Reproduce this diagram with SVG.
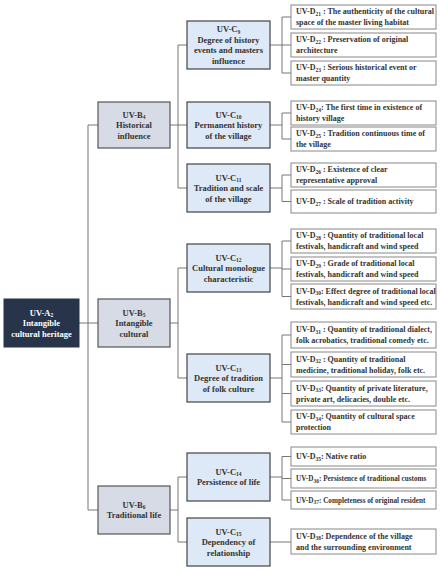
<svg xmlns="http://www.w3.org/2000/svg" width="441" height="571" viewBox="0 0 441 571">
<style>
text{font-family:"Liberation Serif","DejaVu Serif",serif;font-weight:bold;}
.a{fill:#27344a;stroke:#27344a;stroke-width:1}
.b{fill:#d6dbe5;stroke:#555;stroke-width:1.2}
.c{fill:#dde9f6;stroke:#444;stroke-width:1.2}
.d{fill:#fff;stroke:#888;stroke-width:1}
.ta{fill:#fff;font-size:8.5px;text-anchor:middle}
.tb{fill:#333;font-size:8.5px;text-anchor:middle}
.td{fill:#333;font-size:8px}
.tn{font-size:7.2px}
.s{font-size:5.5px}
.con{fill:none;stroke:#777;stroke-width:1}
</style>
<rect width="441" height="571" fill="#fff"/>
<g id="connectors">
<path class="con" d="M79,323H88M88,125V510M88,125H98M88,323H98M88,510H98
M170,125H178M178,45V188M178,45H187M178,125H187M178,188H187
M170,323H178M178,268V378M178,268H187M178,378H187
M170,510H178M178,477V542M178,477H187M178,542H187
M270,45H282M282,17V73M282,17H291M282,45H291M282,73H291
M270,125H282M282,113V139M282,113H291M282,139H291
M270,188H282M282,175V201.5M282,175H291M282,201.5H291
M270,268H282M282,241V296.5M282,241H291M282,269H291M282,296.5H291
M270,378H282M282,335V422M282,335H291M282,364.5H291M282,393.5H291M282,422H291
M270,477H282M282,456.5V500M282,456.5H291M282,478.5H291M282,500H291
M270,542H291"/>
</g>
<g id="A2"><rect class="a" x="4" y="299" width="75" height="48"/>
<text class="ta" x="41.5" y="315.5">UV-A<tspan class="s" dy="1.5">2</tspan></text>
<text class="ta" x="41.5" y="326">Intangible</text>
<text class="ta" x="41.5" y="336.5">cultural heritage</text></g>
<g id="B4"><rect class="b" x="98" y="102" width="72" height="46"/>
<text class="tb" x="134" y="117.5">UV-B<tspan class="s" dy="1.5">4</tspan></text>
<text class="tb" x="134" y="128">Historical</text>
<text class="tb" x="134" y="138.5">influence</text></g>
<g id="B5"><rect class="b" x="98" y="299" width="72" height="48"/>
<text class="tb" x="134" y="315.5">UV-B<tspan class="s" dy="1.5">5</tspan></text>
<text class="tb" x="134" y="326">Intangible</text>
<text class="tb" x="134" y="336.5">cultural</text></g>
<g id="B6"><rect class="b" x="98" y="486" width="72" height="48"/>
<text class="tb" x="134" y="507.8">UV-B<tspan class="s" dy="1.5">6</tspan></text>
<text class="tb" x="134" y="518.3">Traditional life</text></g>
<g id="C9"><rect class="c" x="187" y="21" width="83" height="48"/>
<text class="tb" x="228.5" y="32.3">UV-C<tspan class="s" dy="1.5">9</tspan></text>
<text class="tb" x="228.5" y="42.8">Degree of history</text>
<text class="tb" x="228.5" y="53.3">events and masters</text>
<text class="tb" x="228.5" y="63.8">influence</text></g>
<g id="C10"><rect class="c" x="187" y="102" width="83" height="46"/>
<text class="tb" x="228.5" y="117.5">UV-C<tspan class="s" dy="1.5">10</tspan></text>
<text class="tb" x="228.5" y="128">Permanent history</text>
<text class="tb" x="228.5" y="138.5">of the village</text></g>
<g id="C11"><rect class="c" x="187" y="164" width="83" height="48"/>
<text class="tb" x="228.5" y="180.5">UV-C<tspan class="s" dy="1.5">11</tspan></text>
<text class="tb" x="228.5" y="191">Tradition and scale</text>
<text class="tb" x="228.5" y="201.5">of the village</text></g>
<g id="C12"><rect class="c" x="187" y="244" width="83" height="48"/>
<text class="tb" x="228.5" y="260.5">UV-C<tspan class="s" dy="1.5">12</tspan></text>
<text class="tb" x="228.5" y="271">Cultural monologue</text>
<text class="tb" x="228.5" y="281.5">characteristic</text></g>
<g id="C13"><rect class="c" x="187" y="354" width="83" height="48"/>
<text class="tb" x="228.5" y="370.5">UV-C<tspan class="s" dy="1.5">13</tspan></text>
<text class="tb" x="228.5" y="381">Degree of tradition</text>
<text class="tb" x="228.5" y="391.5">of folk culture</text></g>
<g id="C14"><rect class="c" x="187" y="453" width="83" height="48"/>
<text class="tb" x="228.5" y="474.8">UV-C<tspan class="s" dy="1.5">14</tspan></text>
<text class="tb" x="228.5" y="485.3">Persistence of life</text></g>
<g id="C15"><rect class="c" x="187" y="518" width="83" height="48"/>
<text class="tb" x="228.5" y="534.5">UV-C<tspan class="s" dy="1.5">15</tspan></text>
<text class="tb" x="228.5" y="545">Dependency of</text>
<text class="tb" x="228.5" y="555.5">relationship</text></g>
<g id="D21"><rect class="d" x="291" y="5" width="145" height="24"/>
<text class="td" x="296" y="14.2">UV-D<tspan class="s" dy="1.5">21</tspan><tspan dy="-1.5"> : The authenticity of the cultural</tspan></text>
<text class="td" x="296" y="25.2">space of the master living habitat</text></g>
<g id="D22"><rect class="d" x="291" y="33" width="145" height="24"/>
<text class="td" x="296" y="42.2">UV-D<tspan class="s" dy="1.5">22</tspan><tspan dy="-1.5"> :  Preservation of original</tspan></text>
<text class="td" x="296" y="53.2">architecture</text></g>
<g id="D23"><rect class="d" x="291" y="61" width="145" height="24"/>
<text class="td" x="296" y="70.2">UV-D<tspan class="s" dy="1.5">23</tspan><tspan dy="-1.5"> :  Serious historical event or</tspan></text>
<text class="td" x="296" y="81.2">master quantity</text></g>
<g id="D24"><rect class="d" x="291" y="101" width="145" height="24"/>
<text class="td" x="296" y="110.2">UV-D<tspan class="s" dy="1.5">24</tspan><tspan dy="-1.5">: The first time in existence of</tspan></text>
<text class="td" x="296" y="121.2">history village</text></g>
<g id="D25"><rect class="d" x="291" y="127" width="145" height="24"/>
<text class="td" x="296" y="136.2">UV-D<tspan class="s" dy="1.5">25</tspan><tspan dy="-1.5"> : Tradition continuous time of</tspan></text>
<text class="td" x="296" y="147.2">the village</text></g>
<g id="D26"><rect class="d" x="291" y="163" width="145" height="24"/>
<text class="td" x="296" y="172.2">UV-D<tspan class="s" dy="1.5">26</tspan><tspan dy="-1.5"> : Existence of clear</tspan></text>
<text class="td" x="296" y="183.2">representative approval</text></g>
<g id="D27"><rect class="d" x="291" y="190" width="145" height="23"/>
<text class="td" x="296" y="204.2">UV-D<tspan class="s" dy="1.5">27</tspan><tspan dy="-1.5"> : Scale of tradition activity</tspan></text></g>
<g id="D28"><rect class="d" x="291" y="229" width="145" height="24"/>
<text class="td" x="296" y="238.2">UV-D<tspan class="s" dy="1.5">28</tspan><tspan dy="-1.5"> :  Quantity of traditional local</tspan></text>
<text class="td" x="296" y="249.2">festivals, handicraft and wind speed</text></g>
<g id="D29"><rect class="d" x="291" y="257" width="145" height="24"/>
<text class="td" x="296" y="266.2">UV-D<tspan class="s" dy="1.5">29</tspan><tspan dy="-1.5"> :  Grade of traditional local</tspan></text>
<text class="td" x="296" y="277.2">festivals, handicraft and wind speed</text></g>
<g id="D30"><rect class="d" x="291" y="284" width="145" height="25"/>
<text class="td" x="296" y="293.7">UV-D<tspan class="s" dy="1.5">30</tspan><tspan dy="-1.5">: Effect degree of traditional local</tspan></text>
<text class="td" x="296" y="304.7">festivals, handicraft and wind speed etc.</text></g>
<g id="D31"><rect class="d" x="291" y="322" width="145" height="26"/>
<text class="td" x="296" y="332.2">UV-D<tspan class="s" dy="1.5">31</tspan><tspan dy="-1.5"> :  Quantity of traditional dialect,</tspan></text>
<text class="td" x="296" y="343.2">folk acrobatics, traditional comedy etc.</text></g>
<g id="D32"><rect class="d" x="291" y="352" width="145" height="25"/>
<text class="td" x="296" y="361.7">UV-D<tspan class="s" dy="1.5">32</tspan><tspan dy="-1.5"> : Quantity of  traditional</tspan></text>
<text class="td" x="296" y="372.7">medicine, traditional holiday,  folk etc.</text></g>
<g id="D33"><rect class="d" x="291" y="381" width="145" height="25"/>
<text class="td" x="296" y="390.7">UV-D<tspan class="s" dy="1.5">33</tspan><tspan dy="-1.5">: Quantity of  private literature,</tspan></text>
<text class="td" x="296" y="401.7">private art, delicacies, double etc.</text></g>
<g id="D34"><rect class="d" x="291" y="410" width="145" height="24"/>
<text class="td" x="296" y="419.2">UV-D<tspan class="s" dy="1.5">34</tspan><tspan dy="-1.5">: Quantity of cultural space</tspan></text>
<text class="td" x="296" y="430.2">protection</text></g>
<g id="D35"><rect class="d" x="291" y="447" width="145" height="19"/>
<text class="td" x="296" y="459.2">UV-D<tspan class="s" dy="1.5">35</tspan><tspan dy="-1.5">: Native ratio</tspan></text></g>
<g id="D36"><rect class="d" x="291" y="469" width="145" height="19"/>
<text class="td tn" x="296" y="481">UV-D<tspan class="s" dy="1.5">36</tspan><tspan dy="-1.5">: Persistence of traditional customs</tspan></text></g>
<g id="D37"><rect class="d" x="291" y="491" width="145" height="18"/>
<text class="td tn" x="296" y="502.5">UV-D<tspan class="s" dy="1.5">37</tspan><tspan dy="-1.5">: Completeness  of original resident</tspan></text></g>
<g id="D38"><rect class="d" x="291" y="529" width="145" height="25"/>
<text class="td" x="296" y="538.7">UV-D<tspan class="s" dy="1.5">38</tspan><tspan dy="-1.5">: Dependence of the village</tspan></text>
<text class="td" x="296" y="549.7">and the surrounding environment</text></g>
</svg>
